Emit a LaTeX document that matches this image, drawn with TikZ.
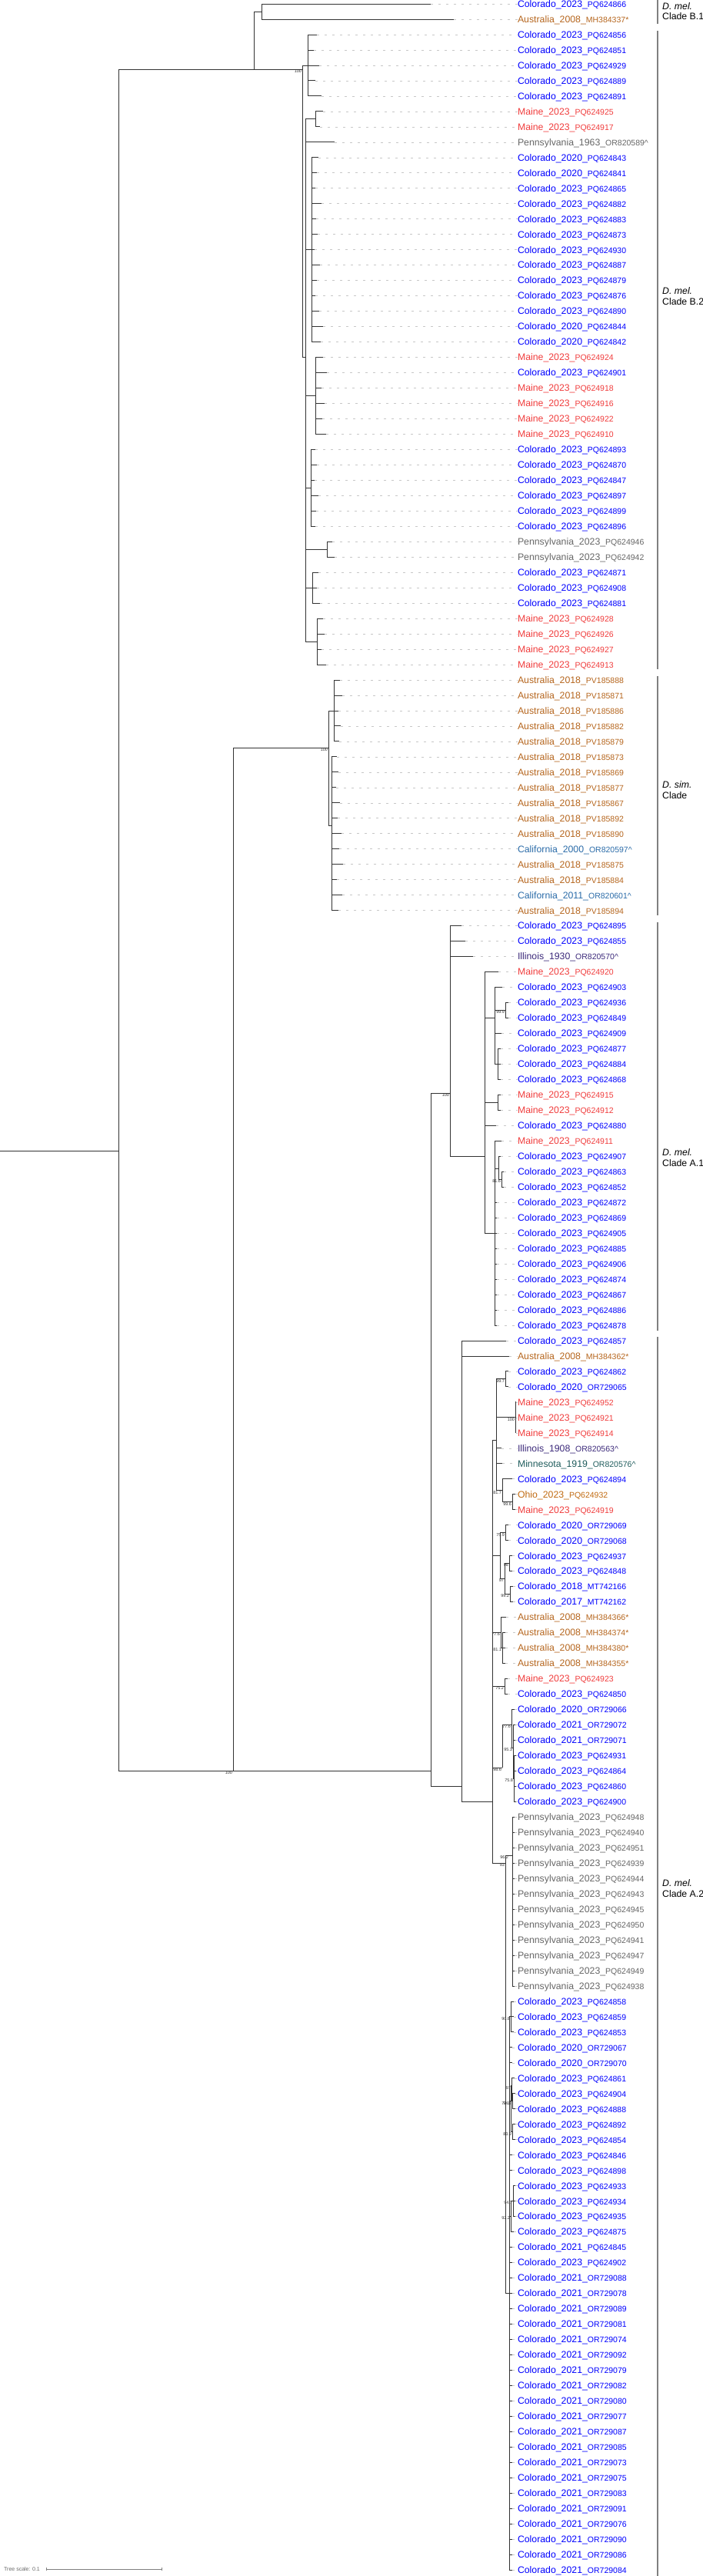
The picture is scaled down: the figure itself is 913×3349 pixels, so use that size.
\documentclass[tikz,border=0pt]{standalone}
\usepackage{fontspec}
\setmainfont{Liberation Sans}
\definecolor{cCO}{HTML}{0000FF}
\definecolor{cME}{HTML}{F03C3C}
\definecolor{cPA}{HTML}{666666}
\definecolor{cAU}{HTML}{B5651D}
\definecolor{cCA}{HTML}{2A6BA8}
\definecolor{cIL}{HTML}{3C2A7A}
\definecolor{cMN}{HTML}{1F5C5C}
\definecolor{cOH}{HTML}{C06A10}
\newcommand\nmf{\fontsize{12.3}{13}\selectfont}
\newcommand\acf{\fontsize{10.5}{12}\selectfont}
\newcommand\leaf[5]{%
  \pgfmathsetmacro\yy{5+(#1-1)*19.976}%
  \coordinate (t#1) at (#2,\yy);
  \node[lab,text=#3] (L#1) at (673,\yy+4.4) {\nmf #4\_\acf #5};
  \draw[dots] (t#1) -- (t#1 -| L#1.west);
}
\newcommand\C[3]{\pgfmathsetmacro\yy{5+(#3-1)*19.976}\coordinate (#1) at (#2,\yy);}
\newcommand\br[2]{\draw[tree] (#1) |- (#2);}
\newcommand\bs[2]{\node[bs] (bs#1) at ([xshift=-0.8pt,yshift=-2.5pt]#1) {#2};}
\begin{document}
\begin{tikzpicture}[x=1pt,y=-1pt,
  lab/.style={anchor=base west,inner sep=0pt,outer sep=0pt},
  dots/.style={draw=black!22,line width=0.5pt,dash pattern=on 3pt off 7pt},
  tree/.style={draw=black!80,line width=0.8pt},
  clbar/.style={draw=black!50,line width=1.6pt},
  cltx/.style={anchor=west,inner sep=0pt,align=left,font=\fontsize{12.3}{13.2}\selectfont},
  bs/.style={anchor=east,inner sep=0pt,font=\fontsize{5.5}{6}\selectfont,text=black!80}]
\useasboundingbox (0,0) rectangle (913,3349);
% ---- leaves
\leaf{1}{560}{cCO}{Colorado\_2023}{PQ624866}
\leaf{2}{590}{cAU}{Australia\_2008}{MH384337*}
\leaf{3}{412}{cCO}{Colorado\_2023}{PQ624856}
\leaf{4}{408}{cCO}{Colorado\_2023}{PQ624851}
\leaf{5}{415}{cCO}{Colorado\_2023}{PQ624929}
\leaf{6}{410}{cCO}{Colorado\_2023}{PQ624889}
\leaf{7}{418}{cCO}{Colorado\_2023}{PQ624891}
\leaf{8}{420}{cME}{Maine\_2023}{PQ624925}
\leaf{9}{416}{cME}{Maine\_2023}{PQ624917}
\leaf{10}{435}{cPA}{Pennsylvania\_1963}{OR820589\textasciicircum}
\leaf{11}{414}{cCO}{Colorado\_2020}{PQ624843}
\leaf{12}{412}{cCO}{Colorado\_2020}{PQ624841}
\leaf{13}{410}{cCO}{Colorado\_2023}{PQ624865}
\leaf{14}{418}{cCO}{Colorado\_2023}{PQ624882}
\leaf{15}{411}{cCO}{Colorado\_2023}{PQ624883}
\leaf{16}{413}{cCO}{Colorado\_2023}{PQ624873}
\leaf{17}{409}{cCO}{Colorado\_2023}{PQ624930}
\leaf{18}{416}{cCO}{Colorado\_2023}{PQ624887}
\leaf{19}{412}{cCO}{Colorado\_2023}{PQ624879}
\leaf{20}{410}{cCO}{Colorado\_2023}{PQ624876}
\leaf{21}{415}{cCO}{Colorado\_2023}{PQ624890}
\leaf{22}{420}{cCO}{Colorado\_2020}{PQ624844}
\leaf{23}{417}{cCO}{Colorado\_2020}{PQ624842}
\leaf{24}{420}{cME}{Maine\_2023}{PQ624924}
\leaf{25}{425}{cCO}{Colorado\_2023}{PQ624901}
\leaf{26}{418}{cME}{Maine\_2023}{PQ624918}
\leaf{27}{422}{cME}{Maine\_2023}{PQ624916}
\leaf{28}{419}{cME}{Maine\_2023}{PQ624922}
\leaf{29}{424}{cME}{Maine\_2023}{PQ624910}
\leaf{30}{410}{cCO}{Colorado\_2023}{PQ624893}
\leaf{31}{412}{cCO}{Colorado\_2023}{PQ624870}
\leaf{32}{409}{cCO}{Colorado\_2023}{PQ624847}
\leaf{33}{414}{cCO}{Colorado\_2023}{PQ624897}
\leaf{34}{411}{cCO}{Colorado\_2023}{PQ624899}
\leaf{35}{410}{cCO}{Colorado\_2023}{PQ624896}
\leaf{36}{432}{cPA}{Pennsylvania\_2023}{PQ624946}
\leaf{37}{435}{cPA}{Pennsylvania\_2023}{PQ624942}
\leaf{38}{414}{cCO}{Colorado\_2023}{PQ624871}
\leaf{39}{412}{cCO}{Colorado\_2023}{PQ624908}
\leaf{40}{416}{cCO}{Colorado\_2023}{PQ624881}
\leaf{41}{420}{cME}{Maine\_2023}{PQ624928}
\leaf{42}{422}{cME}{Maine\_2023}{PQ624926}
\leaf{43}{418}{cME}{Maine\_2023}{PQ624927}
\leaf{44}{424}{cME}{Maine\_2023}{PQ624913}
\leaf{45}{442}{cAU}{Australia\_2018}{PV185888}
\leaf{46}{445}{cAU}{Australia\_2018}{PV185871}
\leaf{47}{440}{cAU}{Australia\_2018}{PV185886}
\leaf{48}{443}{cAU}{Australia\_2018}{PV185882}
\leaf{49}{441}{cAU}{Australia\_2018}{PV185879}
\leaf{50}{438}{cAU}{Australia\_2018}{PV185873}
\leaf{51}{440}{cAU}{Australia\_2018}{PV185869}
\leaf{52}{437}{cAU}{Australia\_2018}{PV185877}
\leaf{53}{442}{cAU}{Australia\_2018}{PV185867}
\leaf{54}{439}{cAU}{Australia\_2018}{PV185892}
\leaf{55}{444}{cAU}{Australia\_2018}{PV185890}
\leaf{56}{441}{cCA}{California\_2000}{OR820597\textasciicircum}
\leaf{57}{446}{cAU}{Australia\_2018}{PV185875}
\leaf{58}{438}{cAU}{Australia\_2018}{PV185884}
\leaf{59}{445}{cCA}{California\_2011}{OR820601\textasciicircum}
\leaf{60}{440}{cAU}{Australia\_2018}{PV185894}
\leaf{61}{600}{cCO}{Colorado\_2023}{PQ624895}
\leaf{62}{605}{cCO}{Colorado\_2023}{PQ624855}
\leaf{63}{615}{cIL}{Illinois\_1930}{OR820570\textasciicircum}
\leaf{64}{648}{cME}{Maine\_2023}{PQ624920}
\leaf{65}{653}{cCO}{Colorado\_2023}{PQ624903}
\leaf{66}{661}{cCO}{Colorado\_2023}{PQ624936}
\leaf{67}{661}{cCO}{Colorado\_2023}{PQ624849}
\leaf{68}{652}{cCO}{Colorado\_2023}{PQ624909}
\leaf{69}{651}{cCO}{Colorado\_2023}{PQ624877}
\leaf{70}{651}{cCO}{Colorado\_2023}{PQ624884}
\leaf{71}{651}{cCO}{Colorado\_2023}{PQ624868}
\leaf{72}{651}{cME}{Maine\_2023}{PQ624915}
\leaf{73}{651}{cME}{Maine\_2023}{PQ624912}
\leaf{74}{645}{cCO}{Colorado\_2023}{PQ624880}
\leaf{75}{652}{cME}{Maine\_2023}{PQ624911}
\leaf{76}{651}{cCO}{Colorado\_2023}{PQ624907}
\leaf{77}{655}{cCO}{Colorado\_2023}{PQ624863}
\leaf{78}{655}{cCO}{Colorado\_2023}{PQ624852}
\leaf{79}{646}{cCO}{Colorado\_2023}{PQ624872}
\leaf{80}{646}{cCO}{Colorado\_2023}{PQ624869}
\leaf{81}{646}{cCO}{Colorado\_2023}{PQ624905}
\leaf{82}{646}{cCO}{Colorado\_2023}{PQ624885}
\leaf{83}{646}{cCO}{Colorado\_2023}{PQ624906}
\leaf{84}{646}{cCO}{Colorado\_2023}{PQ624874}
\leaf{85}{646}{cCO}{Colorado\_2023}{PQ624867}
\leaf{86}{646}{cCO}{Colorado\_2023}{PQ624886}
\leaf{87}{646}{cCO}{Colorado\_2023}{PQ624878}
\leaf{88}{658}{cCO}{Colorado\_2023}{PQ624857}
\leaf{89}{662}{cAU}{Australia\_2008}{MH384362*}
\leaf{90}{661}{cCO}{Colorado\_2023}{PQ624862}
\leaf{91}{661}{cCO}{Colorado\_2020}{OR729065}
\leaf{92}{671}{cME}{Maine\_2023}{PQ624952}
\leaf{93}{671}{cME}{Maine\_2023}{PQ624921}
\leaf{94}{671}{cME}{Maine\_2023}{PQ624914}
\leaf{95}{652}{cIL}{Illinois\_1908}{OR820563\textasciicircum}
\leaf{96}{653}{cMN}{Minnesota\_1919}{OR820576\textasciicircum}
\leaf{97}{666}{cCO}{Colorado\_2023}{PQ624894}
\leaf{98}{670}{cOH}{Ohio\_2023}{PQ624932}
\leaf{99}{670}{cME}{Maine\_2023}{PQ624919}
\leaf{100}{661}{cCO}{Colorado\_2020}{OR729069}
\leaf{101}{661}{cCO}{Colorado\_2020}{OR729068}
\leaf{102}{666}{cCO}{Colorado\_2023}{PQ624937}
\leaf{103}{666}{cCO}{Colorado\_2023}{PQ624848}
\leaf{104}{667}{cCO}{Colorado\_2018}{MT742166}
\leaf{105}{667}{cCO}{Colorado\_2017}{MT742162}
\leaf{106}{658}{cAU}{Australia\_2008}{MH384366*}
\leaf{107}{657}{cAU}{Australia\_2008}{MH384374*}
\leaf{108}{657}{cAU}{Australia\_2008}{MH384380*}
\leaf{109}{657}{cAU}{Australia\_2008}{MH384355*}
\leaf{110}{660}{cME}{Maine\_2023}{PQ624923}
\leaf{111}{660}{cCO}{Colorado\_2023}{PQ624850}
\leaf{112}{669}{cCO}{Colorado\_2020}{OR729066}
\leaf{113}{670}{cCO}{Colorado\_2021}{OR729072}
\leaf{114}{670}{cCO}{Colorado\_2021}{OR729071}
\leaf{115}{671}{cCO}{Colorado\_2023}{PQ624931}
\leaf{116}{671}{cCO}{Colorado\_2023}{PQ624864}
\leaf{117}{671}{cCO}{Colorado\_2023}{PQ624860}
\leaf{118}{671}{cCO}{Colorado\_2023}{PQ624900}
\leaf{119}{669}{cPA}{Pennsylvania\_2023}{PQ624948}
\leaf{120}{669}{cPA}{Pennsylvania\_2023}{PQ624940}
\leaf{121}{669}{cPA}{Pennsylvania\_2023}{PQ624951}
\leaf{122}{669}{cPA}{Pennsylvania\_2023}{PQ624939}
\leaf{123}{669}{cPA}{Pennsylvania\_2023}{PQ624944}
\leaf{124}{669}{cPA}{Pennsylvania\_2023}{PQ624943}
\leaf{125}{669}{cPA}{Pennsylvania\_2023}{PQ624945}
\leaf{126}{669}{cPA}{Pennsylvania\_2023}{PQ624950}
\leaf{127}{669}{cPA}{Pennsylvania\_2023}{PQ624941}
\leaf{128}{669}{cPA}{Pennsylvania\_2023}{PQ624947}
\leaf{129}{669}{cPA}{Pennsylvania\_2023}{PQ624949}
\leaf{130}{669}{cPA}{Pennsylvania\_2023}{PQ624938}
\leaf{131}{668}{cCO}{Colorado\_2023}{PQ624858}
\leaf{132}{668}{cCO}{Colorado\_2023}{PQ624859}
\leaf{133}{668}{cCO}{Colorado\_2023}{PQ624853}
\leaf{134}{666}{cCO}{Colorado\_2020}{OR729067}
\leaf{135}{666}{cCO}{Colorado\_2020}{OR729070}
\leaf{136}{669}{cCO}{Colorado\_2023}{PQ624861}
\leaf{137}{670}{cCO}{Colorado\_2023}{PQ624904}
\leaf{138}{670}{cCO}{Colorado\_2023}{PQ624888}
\leaf{139}{670}{cCO}{Colorado\_2023}{PQ624892}
\leaf{140}{670}{cCO}{Colorado\_2023}{PQ624854}
\leaf{141}{666}{cCO}{Colorado\_2023}{PQ624846}
\leaf{142}{666}{cCO}{Colorado\_2023}{PQ624898}
\leaf{143}{670}{cCO}{Colorado\_2023}{PQ624933}
\leaf{144}{670}{cCO}{Colorado\_2023}{PQ624934}
\leaf{145}{670}{cCO}{Colorado\_2023}{PQ624935}
\leaf{146}{668}{cCO}{Colorado\_2023}{PQ624875}
\leaf{147}{666}{cCO}{Colorado\_2021}{PQ624845}
\leaf{148}{666}{cCO}{Colorado\_2023}{PQ624902}
\leaf{149}{666}{cCO}{Colorado\_2021}{OR729088}
\leaf{150}{666}{cCO}{Colorado\_2021}{OR729078}
\leaf{151}{666}{cCO}{Colorado\_2021}{OR729089}
\leaf{152}{666}{cCO}{Colorado\_2021}{OR729081}
\leaf{153}{666}{cCO}{Colorado\_2021}{OR729074}
\leaf{154}{666}{cCO}{Colorado\_2021}{OR729092}
\leaf{155}{666}{cCO}{Colorado\_2021}{OR729079}
\leaf{156}{666}{cCO}{Colorado\_2021}{OR729082}
\leaf{157}{666}{cCO}{Colorado\_2021}{OR729080}
\leaf{158}{666}{cCO}{Colorado\_2021}{OR729077}
\leaf{159}{666}{cCO}{Colorado\_2021}{OR729087}
\leaf{160}{666}{cCO}{Colorado\_2021}{OR729085}
\leaf{161}{666}{cCO}{Colorado\_2021}{OR729073}
\leaf{162}{666}{cCO}{Colorado\_2021}{OR729075}
\leaf{163}{666}{cCO}{Colorado\_2021}{OR729083}
\leaf{164}{666}{cCO}{Colorado\_2021}{OR729091}
\leaf{165}{666}{cCO}{Colorado\_2021}{OR729076}
\leaf{166}{666}{cCO}{Colorado\_2021}{OR729090}
\leaf{167}{666}{cCO}{Colorado\_2021}{OR729086}
\leaf{168}{666}{cCO}{Colorado\_2021}{OR729084}
% ---- internal nodes
\coordinate (r0) at (0,1496);
\coordinate (R) at (154,1496);
\coordinate (B) at (330,90);
\C{B1}{340}{1.5}
\coordinate (B2) at (393,90);
\C{b2a}{400}{5}
\C{b2b}{397}{24}
\C{g2}{410}{8.5}
\C{g3}{405}{17}
\C{g4}{410}{26.5}
\C{g5}{404}{32.5}
\C{g6}{425}{36.5}
\C{g7}{406}{39}
\C{g8}{412}{42.5}
\coordinate (C) at (303,2302);
\coordinate (DS) at (427,972);
\C{d1}{434}{47}
\C{d2}{431}{54.5}
\coordinate (A) at (560,2302);
\coordinate (A1) at (585,1421);
\C{a1n}{630}{76}
\C{nA}{643}{67}
\C{n66}{657}{66.5}
\C{n69}{647}{70}
\C{n72}{647}{72.5}
\C{nB}{643}{81}
\C{n76}{648}{76.8}
\C{n77}{652}{77.5}
\C{A2}{600}{117}
\C{a2b}{640}{118}
\C{a2c}{645}{94.5}
\C{n90}{657}{90.5}
\C{n92}{670}{93}
\C{n97}{653}{97.75}
\C{n98}{666}{98.5}
\C{a2d}{650}{102}
\C{n100}{657}{100.5}
\C{n102p}{656}{103.5}
\C{n102}{662}{102.5}
\C{n104}{663}{104.5}
\C{a2e}{651}{107}
\C{n107}{653}{108}
\C{a2f}{656}{110.5}
\C{a2g}{653}{115.8}
\C{n112}{665}{113}
\C{n113}{667}{114.5}
\C{n115}{668}{116.5}
\C{a2h}{657}{122}
\C{n119p}{662}{121.5}
\C{n119}{666}{121.5}
\C{a2i}{662}{150}
\C{n131}{664}{132}
\C{n136p}{664}{137.5}
\C{n136}{665}{136.5}
\C{n137}{666}{137.5}
\C{n139}{666}{139.5}
\C{n142}{664}{145}
\C{n143}{667}{144}
% ---- branches
\draw[tree] (r0) -- (R);
\br{R}{B}\br{R}{C}
\br{B}{B1}\br{B}{B2}
\br{B1}{t1}\br{B1}{t2}
\br{B2}{b2a}\br{B2}{b2b}
\foreach \i in {3,...,7}{\br{b2a}{t\i}}
\foreach \n in {g2,t10,g3,g4,g5,g6,g7,g8}{\br{b2b}{\n}}
\foreach \i in {8,9}{\br{g2}{t\i}}
\foreach \i in {11,...,23}{\br{g3}{t\i}}
\foreach \i in {24,...,29}{\br{g4}{t\i}}
\foreach \i in {30,...,35}{\br{g5}{t\i}}
\foreach \i in {36,37}{\br{g6}{t\i}}
\foreach \i in {38,39,40}{\br{g7}{t\i}}
\foreach \i in {41,...,44}{\br{g8}{t\i}}
\br{C}{DS}\br{C}{A}
\br{DS}{d1}\br{DS}{d2}
\foreach \i in {45,...,49}{\br{d1}{t\i}}
\foreach \i in {50,...,60}{\br{d2}{t\i}}
\br{A}{A1}\br{A}{A2}
\foreach \n in {t61,t62,t63,a1n}{\br{A1}{\n}}
\foreach \n in {t64,nA,n72,t74,nB}{\br{a1n}{\n}}
\foreach \n in {t65,n66,t68,n69}{\br{nA}{\n}}
\br{n66}{t66}\br{n66}{t67}
\foreach \i in {69,70,71}{\br{n69}{t\i}}
\br{n72}{t72}\br{n72}{t73}
\foreach \n in {t75,n76,t79,t80,t81,t82,t83,t84,t85,t86,t87}{\br{nB}{\n}}
\br{n76}{t76}\br{n76}{n77}
\br{n77}{t77}\br{n77}{t78}
\foreach \n in {t88,t89,a2b}{\br{A2}{\n}}
\foreach \n in {a2c,a2d,a2e,a2f,a2g,a2h}{\br{a2b}{\n}}
\foreach \n in {n90,n92,t95,t96,n97}{\br{a2c}{\n}}
\br{n90}{t90}\br{n90}{t91}
\foreach \i in {92,93,94}{\br{n92}{t\i}}
\br{n97}{t97}\br{n97}{n98}
\br{n98}{t98}\br{n98}{t99}
\br{a2d}{n100}\br{a2d}{n102p}
\br{n100}{t100}\br{n100}{t101}
\br{n102p}{n102}\br{n102p}{n104}
\br{n102}{t102}\br{n102}{t103}
\br{n104}{t104}\br{n104}{t105}
\br{a2e}{t106}\br{a2e}{n107}
\foreach \i in {107,108,109}{\br{n107}{t\i}}
\br{a2f}{t110}\br{a2f}{t111}
\br{a2g}{n112}
\br{n112}{t112}\br{n112}{n113}
\foreach \n in {t113,t114,n115}{\br{n113}{\n}}
\foreach \i in {115,...,118}{\br{n115}{t\i}}
\br{a2h}{n119p}\br{a2h}{a2i}
\draw[tree] (n119p) -- (n119);
\foreach \i in {119,...,130}{\br{n119}{t\i}}
\foreach \n in {n131,t134,t135,n136p,t141,t142,n142}{\br{a2i}{\n}}
\foreach \i in {147,...,168}{\br{a2i}{t\i}}
\foreach \i in {131,132,133}{\br{n131}{t\i}}
\br{n136p}{n136}\br{n136p}{n139}
\br{n136}{t136}\br{n136}{n137}
\br{n137}{t137}\br{n137}{t138}
\br{n139}{t139}\br{n139}{t140}
\br{n142}{n143}\br{n142}{t146}
\foreach \i in {143,144,145}{\br{n143}{t\i}}
% ---- support values
\bs{B2}{100}\bs{DS}{100}\bs{C}{100}\bs{A1}{100}
\bs{n66}{99.9}\bs{n77}{81.6}
\bs{n90}{99.7}\bs{n92}{100}\bs{n97}{81.7}\bs{n98}{99.6}
\bs{n100}{75.9}\bs{n102p}{97}\bs{n102}{98}\bs{n104}{99.2}
\bs{a2e}{77.6}\bs{n107}{81.1}\bs{a2f}{75.2}
\bs{n112}{77.6}\bs{n113}{95.3}\bs{n115}{75.8}\bs{a2g}{98.6}
\bs{n119p}{96.2}\bs{a2h}{93}
\bs{n131}{90.8}\bs{n136}{97}\bs{n137}{94.3}\bs{n136p}{77.1}\bs{n139}{83.9}
\bs{n143}{94.7}\bs{n142}{92.2}
% ---- clade bars
\draw[clbar] (855,0) -- (855,31);
\draw[clbar] (855,40) -- (855,870);
\draw[clbar] (855,879) -- (855,1190);
\draw[clbar] (855,1199) -- (855,1730);
\draw[clbar] (855,1738) -- (855,3349);
\node[cltx] (c1) at (861,15) {\textit{D. mel.}\\Clade B.1};
\node[cltx] (c2) at (861,385) {\textit{D. mel.}\\Clade B.2};
\node[cltx] (c3) at (861,1027) {\textit{D. sim.}\\Clade};
\node[cltx] (c4) at (861,1505) {\textit{D. mel.}\\Clade A.1};
\node[cltx] (c5) at (861,2455) {\textit{D. mel.}\\Clade A.2};
% ---- scale
\node[anchor=west,inner sep=0pt,font=\fontsize{7}{8}\selectfont,text=black!60] (ts) at (5,3340) {Tree scale: 0.1};
\coordinate (s1) at (60,3340);
\coordinate (s2) at (210,3340);
\draw[black!50,line width=0.6pt] (s1) -- (s2);
\draw[black!50,line width=0.6pt] ([yshift=2pt]s1) -- ([yshift=-2pt]s1);
\draw[black!50,line width=0.6pt] ([yshift=2pt]s2) -- ([yshift=-2pt]s2);
\end{tikzpicture}
\end{document}
